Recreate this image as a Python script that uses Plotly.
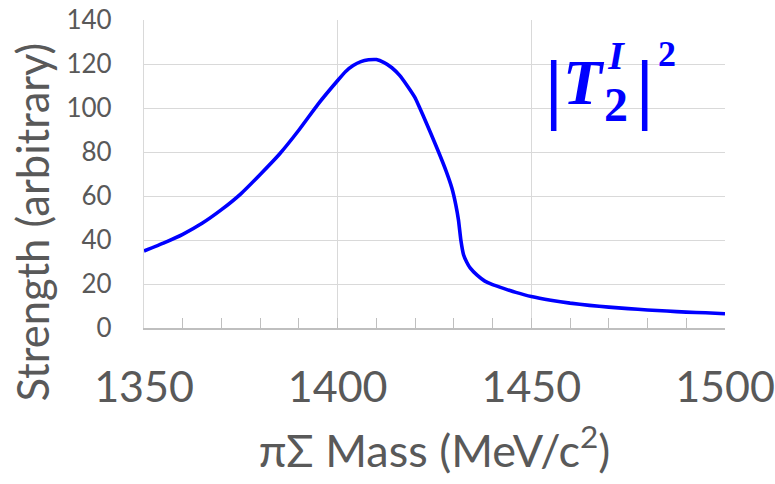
import plotly.graph_objects as go

# pi-Sigma invariant mass (MeV/c^2) and strength |T_2^I|^2 (arbitrary units)
mass = [1350, 1355, 1360, 1365, 1370, 1375, 1380, 1385, 1390, 1395,
        1400, 1402, 1404, 1406, 1408, 1410, 1412, 1414, 1416, 1418,
        1420, 1422, 1424, 1426, 1428, 1429.5, 1430.5, 1431.2, 1431.8, 1432.5,
        1433.3, 1434.2, 1436, 1438, 1440, 1443, 1446, 1450, 1455, 1460,
        1465, 1470, 1475, 1480, 1485, 1490, 1495, 1500]
strength = [35.0, 38.6, 42.6, 47.6, 53.8, 61.0, 69.8, 79.1, 90.0, 101.9,
            112.5, 116.5, 119.3, 121.1, 121.9, 122.0, 120.6, 118.3, 114.8, 110.0,
            104.6, 96.8, 88.6, 80.2, 71.3, 63.5, 56.0, 49.0, 40.0, 33.3,
            30.0, 27.3, 24.0, 21.3, 19.7, 17.9, 16.2, 14.3, 12.6, 11.3,
            10.3, 9.5, 8.8, 8.2, 7.7, 7.2, 6.9, 6.5]

x_ticks = [1350, 1400, 1450, 1500]
y_ticks = [0, 20, 40, 60, 80, 100, 120, 140]

BLUE = "#0000FF"
GRID = "#d9d9d9"
TEXT = "#595959"
FONT = "Lato, 'Open Sans', sans-serif"
SERIF = "'Liberation Serif', 'DejaVu Serif', serif"

fig = go.Figure()
fig.add_trace(go.Scatter(
    x=mass, y=strength, mode="lines",
    line=dict(color=BLUE, width=3.6, shape="spline", smoothing=0.35),
    showlegend=False, hoverinfo="skip",
))

fig.update_xaxes(
    range=[x_ticks[0], x_ticks[-1]],
    tickvals=x_ticks, ticktext=[str(v) for v in x_ticks],
    showgrid=True, gridcolor=GRID, gridwidth=1.3,
    showline=True, linecolor="#bfbfbf", linewidth=1.5,
    ticks="inside", ticklen=10, tickcolor="#bfbfbf", tickwidth=1.3,
    minor=dict(dtick=10, tick0=1350, ticks="inside", ticklen=10,
               tickcolor="#bfbfbf", tickwidth=1.3, showgrid=False),
    tickfont=dict(family=FONT, size=43, color=TEXT),
    ticklabelstandoff=21,
    automargin=False, zeroline=False, fixedrange=True,
    title=dict(text="πΣ Mass (MeV/c<sup>2</sup>)",
               font=dict(family=FONT, size=45, color=TEXT), standoff=25),
)
fig.update_yaxes(
    range=[y_ticks[0], y_ticks[-1]],
    tickvals=y_ticks, ticktext=[str(v) for v in y_ticks],
    showgrid=True, gridcolor=GRID, gridwidth=1.3,
    showline=True, linecolor=GRID, linewidth=1.3,
    ticks="", tickfont=dict(family=FONT, size=26, color=TEXT),
    ticklabelstandoff=26,
    automargin=False, zeroline=False, fixedrange=True,
)

# y-axis title placed as a rotated annotation
annotations = [dict(
    text="Strength (arbitrary)", xref="paper", yref="paper",
    x=-0.192, y=0.344, xanchor="center", yanchor="middle", textangle=-90,
    showarrow=False, font=dict(family=FONT, size=43.5, color=TEXT),
)]

# |T_2^I|^2 label: bars, T, a stacked I-over-2 index block, outer square
label_parts = [
    ("<b>|</b>", 0.704, 0.78, 79),
    ("<b><i>T</i></b>", 0.757, 0.796, 64),
    ("<b><i>I</i></b><br><b><span style='font-size:48px'>2</span></b>",
     0.813, 0.80, 40),
    ("<b>|</b>", 0.862, 0.78, 79),
    ("<b>2</b>", 0.90, 0.89, 36),
]
for txt, px, py, size in label_parts:
    annotations.append(dict(
        text=txt, xref="paper", yref="paper", x=px, y=py,
        xanchor="center", yanchor="middle", showarrow=False, align="center",
        font=dict(family=SERIF, size=size, color=BLUE),
    ))

fig.update_layout(
    width=775, height=484,
    margin=dict(l=144, r=50, t=20, b=156),
    paper_bgcolor="white", plot_bgcolor="white",
    annotations=annotations,
)

fig.write_html("out.html")
